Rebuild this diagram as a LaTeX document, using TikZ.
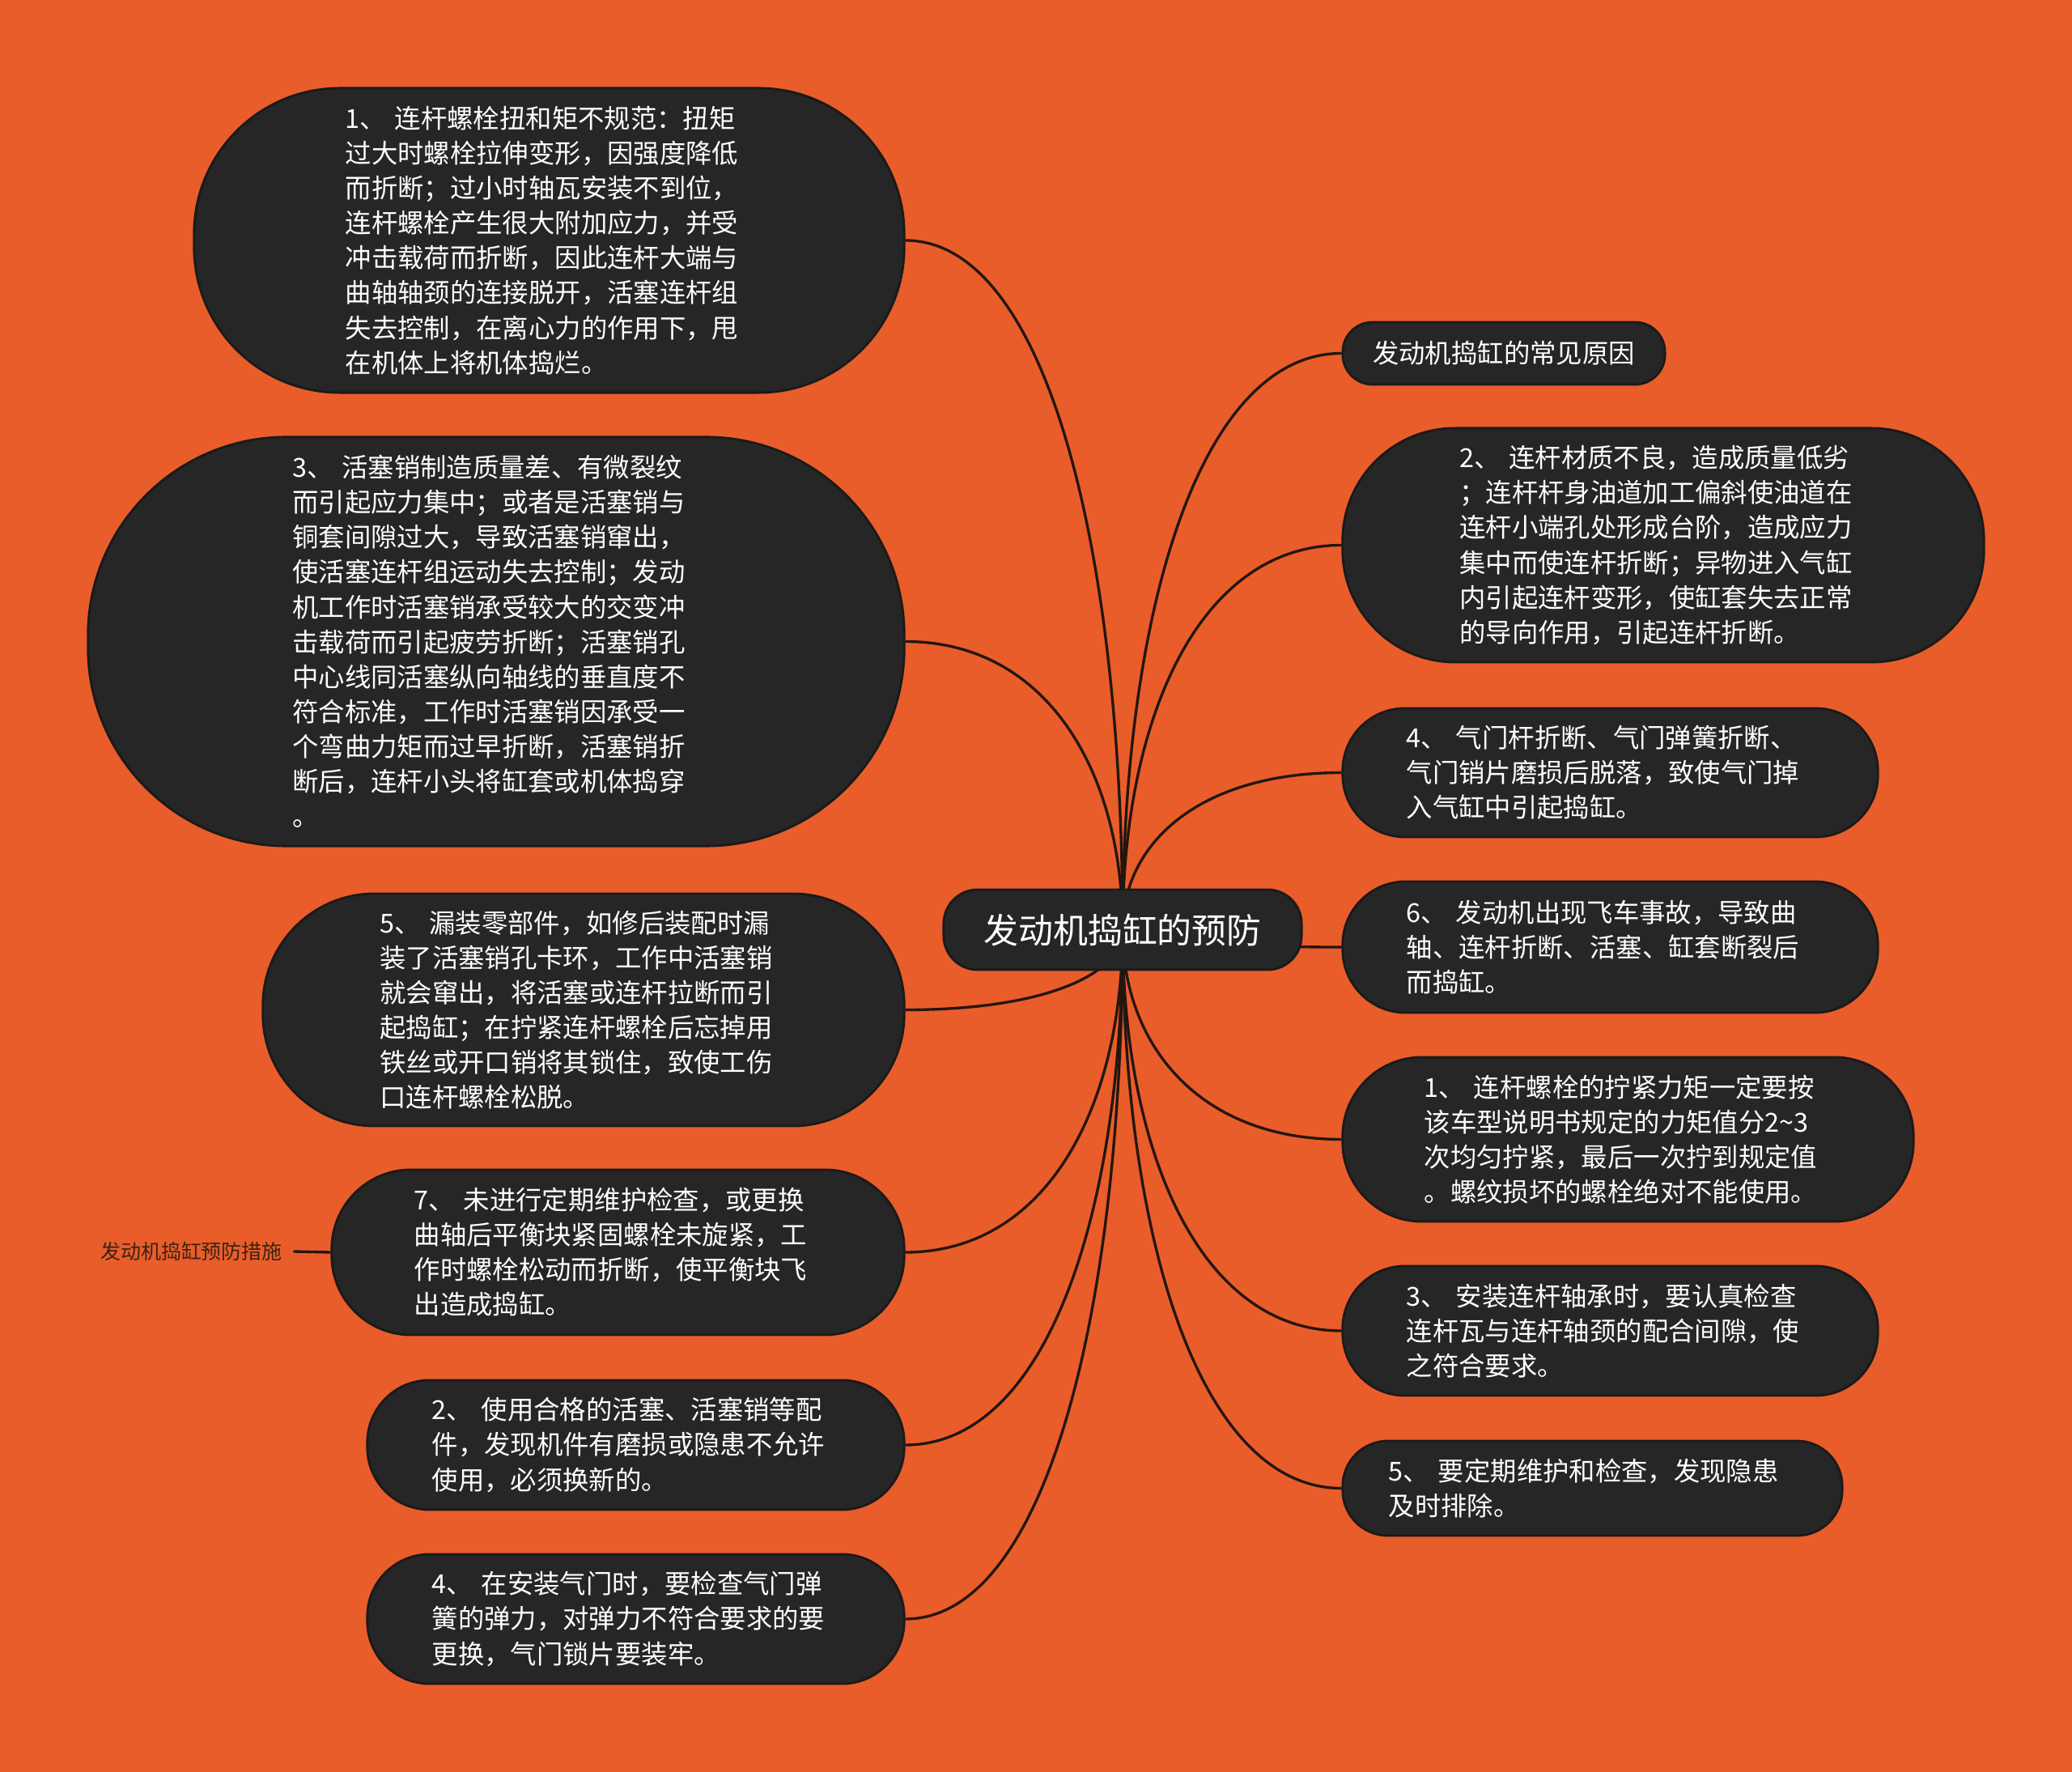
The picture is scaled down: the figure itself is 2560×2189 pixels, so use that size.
\documentclass[tikz,border=0pt]{standalone}
\usepackage{fontspec}
\usetikzlibrary{calc}
\setmainfont{Noto Sans CJK SC}
\definecolor{bgc}{HTML}{E95D2A}
\definecolor{nodefill}{HTML}{262626}
\definecolor{nodeline}{HTML}{1A1A1A}
\definecolor{edgec}{HTML}{24160F}
\definecolor{labc}{HTML}{3B2314}
\pgfdeclarelayer{back}
\pgfsetlayers{back,main}
\newcommand{\leaffont}{\fontsize{9.2pt}{12.26pt}\selectfont}
\tikzset{
  leafbase/.style={fill=nodefill, draw=nodeline, line width=0.8pt, text=white,
    font=\leaffont, inner sep=0pt},
  leaf/.style={leafbase, align=left, text width=138pt+0.18cm},
  rootnode/.style={fill=nodefill, draw=nodeline, line width=0.8pt, text=white,
    font=\fontsize{12.2pt}{14pt}\selectfont, inner sep=0pt},
  lbl/.style={text=labc, font=\fontsize{7.1pt}{9pt}\selectfont, inner ysep=0pt, inner xsep=0.13cm},
  conn/.style={draw=edgec, line width=0.95pt},
}
\begin{document}
\begin{tikzpicture}[x=0.01cm, y=-0.01cm]
\begin{pgfonlayer}{back}
\fill[bgc] (0,0) rectangle (2560,2189);
\end{pgfonlayer}
\useasboundingbox (0,0) rectangle (2560,2189);

% center
\node[rootnode, minimum width=4.42cm, minimum height=0.99cm, rounded corners=0.42cm] (C) at (1387,1148.5) {发动机捣缸的预防};

% left nodes
\node[leaf, minimum width=8.77cm, minimum height=3.76cm, rounded corners=1.8cm] (L1) at (678.5,297) {1、 连杆螺栓扭和矩不规范：扭矩\\过大时螺栓拉伸变形，因强度降低\\而折断；过小时轴瓦安装不到位，\\连杆螺栓产生很大附加应力，并受\\冲击载荷而折断，因此连杆大端与\\曲轴轴颈的连接脱开，活塞连杆组\\失去控制，在离心力的作用下，甩\\在机体上将机体捣烂。};

\node[leaf, minimum width=10.08cm, minimum height=5.05cm, rounded corners=2.45cm] (L2) at (613,792.5) {3、 活塞销制造质量差、有微裂纹\\而引起应力集中；或者是活塞销与\\铜套间隙过大，导致活塞销窜出，\\使活塞连杆组运动失去控制；发动\\机工作时活塞销承受较大的交变冲\\击载荷而引起疲劳折断；活塞销孔\\中心线同活塞纵向轴线的垂直度不\\符合标准，工作时活塞销因承受一\\个弯曲力矩而过早折断，活塞销折\\断后，连杆小头将缸套或机体捣穿\\。};

\node[leaf, minimum width=7.92cm, minimum height=2.87cm, rounded corners=1.38cm] (L3) at (721,1247.5) {5、 漏装零部件，如修后装配时漏\\装了活塞销孔卡环，工作中活塞销\\就会窜出，将活塞或连杆拉断而引\\起捣缸；在拧紧连杆螺栓后忘掉用\\铁丝或开口销将其锁住，致使工伤\\口连杆螺栓松脱。};

\node[leaf, minimum width=7.07cm, minimum height=2.04cm, rounded corners=0.98cm] (L4) at (763.5,1547) {7、 未进行定期维护检查，或更换\\曲轴后平衡块紧固螺栓未旋紧，工\\作时螺栓松动而折断，使平衡块飞\\出造成捣缸。};

\node[leaf, minimum width=6.63cm, minimum height=1.6cm, rounded corners=0.77cm] (L5) at (785.5,1785) {2、 使用合格的活塞、活塞销等配\\件，发现机件有磨损或隐患不允许\\使用，必须换新的。};

\node[leaf, minimum width=6.63cm, minimum height=1.6cm, rounded corners=0.77cm] (L6) at (785.5,2000) {4、 在安装气门时，要检查气门弹\\簧的弹力，对弹力不符合要求的要\\更换，气门锁片要装牢。};

\node[lbl] (lab) at (236.5,1546) {发动机捣缸预防措施};

% right nodes
\node[leafbase, minimum width=3.98cm, minimum height=0.77cm, rounded corners=0.37cm] (R1) at (1858,436.5) {发动机捣缸的常见原因};

\node[leaf, minimum width=7.92cm, minimum height=2.89cm, rounded corners=1.39cm] (R2) at (2055,673.5) {2、 连杆材质不良，造成质量低劣\\；连杆杆身油道加工偏斜使油道在\\连杆小端孔处形成台阶，造成应力\\集中而使连杆折断；异物进入气缸\\内引起连杆变形，使缸套失去正常\\的导向作用，引起连杆折断。};

\node[leaf, minimum width=6.61cm, minimum height=1.59cm, rounded corners=0.77cm] (R3) at (1989.5,954.5) {4、 气门杆折断、气门弹簧折断、\\气门销片磨损后脱落，致使气门掉\\入气缸中引起捣缸。};

\node[leaf, minimum width=6.61cm, minimum height=1.62cm, rounded corners=0.78cm] (R4) at (1989.5,1170) {6、 发动机出现飞车事故，导致曲\\轴、连杆折断、活塞、缸套断裂后\\而捣缸。};

\node[leaf, minimum width=7.05cm, minimum height=2.03cm, rounded corners=0.98cm] (R5) at (2011.5,1407.5) {1、 连杆螺栓的拧紧力矩一定要按\\该车型说明书规定的力矩值分2{\char"007E}3\\次均匀拧紧，最后一次拧到规定值\\。螺纹损坏的螺栓绝对不能使用。};

\node[leaf, minimum width=6.61cm, minimum height=1.6cm, rounded corners=0.77cm] (R6) at (1989.5,1644) {3、 安装连杆轴承时，要认真检查\\连杆瓦与连杆轴颈的配合间隙，使\\之符合要求。};

\node[leaf, minimum width=6.17cm, minimum height=1.17cm, rounded corners=0.56cm] (R7) at (1967.5,1838.5) {5、 要定期维护和检查，发现隐患\\及时排除。};

% connectors
\begin{pgfonlayer}{back}
\foreach \n in {L1,L2,L3,L4,L5,L6} {
  \draw[conn] (C.center) .. controls ($(C.center)!0.55!(C.center |- \n.east)$)
     and ($(C.center |- \n.east)!0.35!(\n.east)$) .. (\n.east);
}
\foreach \n in {R1,R2,R3,R4,R5,R6,R7} {
  \draw[conn] (C.center) .. controls ($(C.center)!0.55!(C.center |- \n.west)$)
     and ($(C.center |- \n.west)!0.35!(\n.west)$) .. (\n.west);
}
\draw[conn] (lab.east) -- (L4.west);
\end{pgfonlayer}
\end{tikzpicture}
\end{document}
